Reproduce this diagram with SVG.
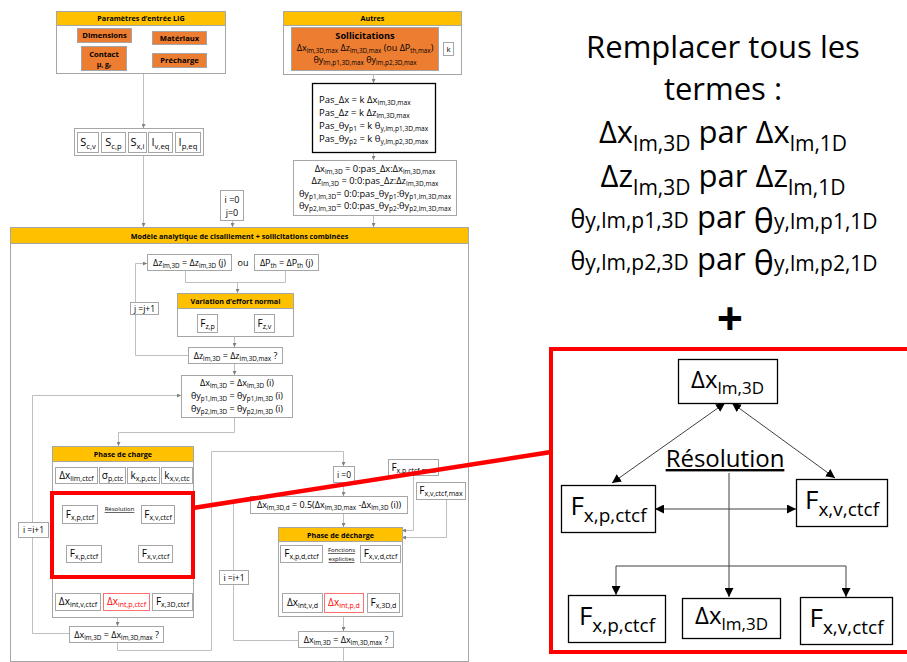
<svg xmlns="http://www.w3.org/2000/svg" width="907" height="662" viewBox="0 0 907 662">
<style>
text{font-family:"Open Sans","Liberation Sans",sans-serif;fill:#000}
.m{text-anchor:middle}
.b{font-weight:bold}
.s{font-size:70%}
.u{text-decoration:underline}
.n{fill:#fff;stroke:#a6a6a6;stroke-width:1}
.h{fill:#ffc000;stroke:#a6a6a6;stroke-width:1}
.o{fill:#ed7d31;stroke:#a6a6a6;stroke-width:1}
.rn{fill:#fff;stroke:#ff7070;stroke-width:1}
.rt{fill:#ff0000}
.k{fill:#fff;stroke:#000;stroke-width:1.3}
.c{fill:none;stroke:#bfbfbf;stroke-width:1}
.ca{fill:none;stroke:#bfbfbf;stroke-width:1;marker-end:url(#sa)}
.cb{fill:none;stroke:#bfbfbf;stroke-width:1;marker-end:url(#sa);marker-start:url(#sa)}
.bl{fill:none;stroke:#404040;stroke-width:1;marker-end:url(#ba)}
.bb{fill:none;stroke:#404040;stroke-width:1;marker-end:url(#ba);marker-start:url(#ba)}
.red{fill:none;stroke:#ff0000;stroke-width:4}
</style>
<defs>
<marker id="sa" viewBox="0 0 6 6" refX="6" refY="3" markerWidth="4" markerHeight="4" orient="auto-start-reverse" markerUnits="userSpaceOnUse"><path d="M0,0L6,3L0,6z" fill="#808080"/></marker>
<marker id="ba" viewBox="0 0 10 10" refX="10" refY="5" markerWidth="9" markerHeight="9" orient="auto-start-reverse" markerUnits="userSpaceOnUse"><path d="M0,0L10,5L0,10z" fill="#000"/></marker>
</defs>
<rect width="907" height="662" fill="#fff"/>

<g id="modele">
<rect class="n" x="10.5" y="227.5" width="458" height="434"/>
<rect class="h" x="10.5" y="227.5" width="458" height="16"/>
<text class="m b" x="239.5" y="238.5" font-size="7.2">Modèle analytique de cisaillement + sollicitations combinées</text>
</g>

<g id="connectors">
<path class="ca" d="M143.5,73.5V128"/>
<path class="ca" d="M143.5,155V227"/>
<path class="ca" d="M373.5,74V83"/>
<path class="ca" d="M373.5,152V160"/>
<path class="ca" d="M373.5,215V227"/>
<path class="ca" d="M232.5,220V227"/>
<path class="c" d="M185.5,270V282.5H285.5V270"/>
<path class="ca" d="M237.5,282.5V293"/>
<path class="c" d="M188,355.5H135.5V314"/>
<path class="ca" d="M135.5,302V263.5H147"/>
<path class="ca" d="M234.5,336V347"/>
<path class="ca" d="M234.5,363V375"/>
<path class="c" d="M69,633.5H32.5V537"/>
<path class="ca" d="M32.5,522V395.5H181"/>
<path class="ca" d="M234.5,417V432.5H118.5V446"/>
<path class="ca" d="M72.5,483V505"/>
<path class="ca" d="M155.5,483V505"/>
<path class="c" d="M106.5,483V491"/>
<path class="c" d="M172.5,483V491"/>
<path class="cb" d="M97,514.5H141"/>
<path class="c" d="M120.5,517V533.5"/>
<path class="cb" d="M83.5,545V533.5H158.5V545"/>
<path class="c" d="M83.5,562V567.5H158.5V562"/>
<path class="c" d="M120.5,567.5V582.5"/>
<path class="cb" d="M77.5,593V582.5H171.5V593"/>
<path class="ca" d="M120.5,582.5V593"/>
<path class="ca" d="M117.5,617V626"/>
<path class="ca" d="M117.5,642V650.5H211.5V451.5H343.5V466"/>
<path class="ca" d="M343.5,482V496"/>
<path class="c" d="M298,640.5H233.5V584"/>
<path class="ca" d="M233.5,570V500.5H250"/>
<path class="ca" d="M343.5,513V527"/>
<path class="ca" d="M413.5,475V530.5H402"/>
<path class="ca" d="M446.5,499V537.5H402"/>
<path class="c" d="M300.5,562V567.5H380.5V562"/>
<path class="c" d="M343.5,564V580.5"/>
<path class="cb" d="M300.5,593V580.5H383.5V593"/>
<path class="ca" d="M343.5,580.5V593"/>
<path class="ca" d="M343.5,616V631"/>
<path class="c" d="M343.5,647V662"/>
<path class="bb" d="M725,403L612,483"/>
<path class="bb" d="M732,403L835,478"/>
<path class="bb" d="M655,509H796"/>
<path class="bl" d="M729,473V597"/>
<path class="bb" d="M616,595V566H846V597"/>
</g>

<g id="params">
<rect class="n" x="56.5" y="11.5" width="169" height="62"/>
<rect class="h" x="56.5" y="11.5" width="169" height="14"/>
<text class="m b" x="141" y="21" font-size="7.2">Paramètres d’entrée LIG</text>
<rect class="o" x="77.5" y="28.5" width="54" height="14"/>
<text class="m b" x="104.5" y="38.3" font-size="7.6">Dimensions</text>
<rect class="o" x="152.5" y="31.5" width="54" height="13"/>
<text class="m b" x="179.5" y="40.8" font-size="7.6">Matériaux</text>
<rect class="o" x="81.5" y="46.5" width="45" height="24"/>
<text class="m b" x="104" y="56.5" font-size="7.6">Contact</text>
<text class="m b" x="104" y="66.5" font-size="7">μ, g<tspan class="s" dy="1.5">r</tspan></text>
<rect class="o" x="152.5" y="53.5" width="54" height="14"/>
<text class="m b" x="179.5" y="63.3" font-size="7.6">Précharge</text>
</g>

<g id="autres">
<rect class="n" x="283.5" y="11.5" width="178" height="63"/>
<rect class="h" x="283.5" y="11.5" width="178" height="14"/>
<text class="m b" x="372.5" y="21" font-size="7.2">Autres</text>
<rect class="o" x="291.5" y="27.5" width="147" height="43"/>
<text class="m b" x="365" y="38.5" font-size="9.2">Sollicitations</text>
<text class="m" x="365" y="50.5" font-size="9">Δx<tspan class="s" dy="2">lm,3D,max</tspan><tspan dy="-2"> Δz</tspan><tspan class="s" dy="2">lm,3D,max</tspan><tspan dy="-2"> (ou ΔP</tspan><tspan class="s" dy="2">th,max</tspan><tspan dy="-2">)</tspan></text>
<text class="m" x="365" y="63" font-size="9">θy<tspan class="s" dy="2">lm,p1,3D,max</tspan><tspan dy="-2"> θy</tspan><tspan class="s" dy="2">lm,p2,3D,max</tspan></text>
<rect class="n" x="443.5" y="42.5" width="10" height="13"/>
<text class="m" x="448.5" y="52" font-size="8">k</text>
</g>

<g id="sections">
<rect class="n" x="74.5" y="128.5" width="129" height="27"/>
<rect class="n" x="77.5" y="132.5" width="21" height="20"/>
<text class="m" x="88" y="146" font-size="11">S<tspan class="s" dy="2.5">c,v</tspan></text>
<rect class="n" x="101.5" y="132.5" width="24" height="20"/>
<text class="m" x="113.5" y="146" font-size="11">S<tspan class="s" dy="2.5">c,p</tspan></text>
<rect class="n" x="128.5" y="132.5" width="18" height="20"/>
<text class="m" x="137.5" y="146" font-size="11">S<tspan class="s" dy="2.5">x,i</tspan></text>
<rect class="n" x="148.5" y="132.5" width="24" height="20"/>
<text class="m" x="160.5" y="146" font-size="11">I<tspan class="s" dy="2.5">v,eq</tspan></text>
<rect class="n" x="175.5" y="132.5" width="25" height="20"/>
<text class="m" x="188" y="146" font-size="11">I<tspan class="s" dy="2.5">p,eq</tspan></text>
</g>

<g id="pas">
<rect class="k" x="312.5" y="83.5" width="123" height="69" stroke-width="2"/>
<text x="319" y="103" font-size="9.5">Pas_Δx = k Δx<tspan class="s" dy="2">lm,3D,max</tspan></text>
<text x="319" y="116" font-size="9.5">Pas_Δz = k Δz<tspan class="s" dy="2">lm,3D,max</tspan></text>
<text x="319" y="129" font-size="9.5">Pas_θy<tspan class="s" dy="2">p1</tspan><tspan dy="-2"> = k θ</tspan><tspan class="s" dy="2">y,lm,p1,3D,max</tspan></text>
<text x="319" y="142" font-size="9.5">Pas_θy<tspan class="s" dy="2">p2</tspan><tspan dy="-2"> = k θ</tspan><tspan class="s" dy="2">y,lm,p2,3D,max</tspan></text>
</g>

<g id="plages">
<rect class="n" x="293.5" y="160.5" width="163" height="55"/>
<text class="m" x="375" y="171.5" font-size="9.3">Δx<tspan class="s" dy="2">lm,3D</tspan><tspan dy="-2"> = 0:pas_Δx:Δx</tspan><tspan class="s" dy="2">lm,3D,max</tspan></text>
<text class="m" x="375" y="184" font-size="9.3">Δz<tspan class="s" dy="2">lm,3D</tspan><tspan dy="-2"> = 0:0:pas_Δz:Δz</tspan><tspan class="s" dy="2">lm,3D,max</tspan></text>
<text class="m" x="375" y="196.5" font-size="9.3">θy<tspan class="s" dy="2">p1,lm,3D</tspan><tspan dy="-2">= 0:0:pas_θy</tspan><tspan class="s" dy="2">p1</tspan><tspan dy="-2">:θy</tspan><tspan class="s" dy="2">p1,lm,3D,max</tspan></text>
<text class="m" x="375" y="209" font-size="9.3">θy<tspan class="s" dy="2">p2,lm,3D</tspan><tspan dy="-2">= 0:0:pas_θy</tspan><tspan class="s" dy="2">p2</tspan><tspan dy="-2">:θy</tspan><tspan class="s" dy="2">p2,lm,3D,max</tspan></text>
</g>

<g id="init">
<rect class="n" x="220.5" y="190.5" width="23" height="30"/>
<text class="m" x="232" y="202.5" font-size="9">i =0</text>
<text class="m" x="232" y="215.5" font-size="9">j=0</text>
</g>

<g id="dz">
<rect class="n" x="147.5" y="254.5" width="84" height="16"/>
<text class="m" x="189.5" y="265.5" font-size="9">Δz<tspan class="s" dy="2">lm,3D</tspan><tspan dy="-2"> = Δz</tspan><tspan class="s" dy="2">lm,3D</tspan><tspan dy="-2"> (j)</tspan></text>
<text class="m" x="243" y="265.5" font-size="9">ou</text>
<rect class="n" x="254.5" y="254.5" width="64" height="16"/>
<text class="m" x="286.5" y="265.5" font-size="9">ΔP<tspan class="s" dy="2">th</tspan><tspan dy="-2"> = ΔP</tspan><tspan class="s" dy="2">th</tspan><tspan dy="-2"> (j)</tspan></text>
</g>

<g id="jinc">
<rect class="n" x="130.5" y="302.5" width="28" height="12"/>
<text class="m" x="144.5" y="311.5" font-size="8.5">j =j+1</text>
</g>

<g id="variation">
<rect class="n" x="177.5" y="293.5" width="116" height="43"/>
<rect class="h" x="177.5" y="293.5" width="116" height="15"/>
<text class="m b" x="235.5" y="303.8" font-size="7.2">Variation d’effort normal</text>
<rect class="n" x="197.5" y="314.5" width="20" height="18"/>
<text class="m" x="207.5" y="326.5" font-size="10">F<tspan class="s" dy="2">z,p</tspan></text>
<rect class="n" x="254.5" y="314.5" width="20" height="18"/>
<text class="m" x="264.5" y="326.5" font-size="10">F<tspan class="s" dy="2">z,v</tspan></text>
</g>

<g id="dzmax">
<rect class="n" x="188.5" y="347.5" width="94" height="16"/>
<text class="m" x="235.5" y="358.5" font-size="9">Δz<tspan class="s" dy="2">lm,3D</tspan><tspan dy="-2"> = Δz</tspan><tspan class="s" dy="2">lm,3D,max</tspan><tspan dy="-2"> ?</tspan></text>
</g>

<g id="dxi">
<rect class="n" x="181.5" y="375.5" width="111" height="42"/>
<text class="m" x="237" y="386" font-size="9">Δx<tspan class="s" dy="2">lm,3D</tspan><tspan dy="-2"> = Δx</tspan><tspan class="s" dy="2">lm,3D</tspan><tspan dy="-2"> (i)</tspan></text>
<text class="m" x="237" y="399" font-size="9">θy<tspan class="s" dy="2">p1,lm,3D</tspan><tspan dy="-2"> = θy</tspan><tspan class="s" dy="2">p1,lm,3D</tspan><tspan dy="-2"> (i)</tspan></text>
<text class="m" x="237" y="412" font-size="9">θy<tspan class="s" dy="2">p2,lm,3D</tspan><tspan dy="-2"> = θy</tspan><tspan class="s" dy="2">p2,lm,3D</tspan><tspan dy="-2"> (i)</tspan></text>
</g>

<g id="iinc1">
<rect class="n" x="18.5" y="522.5" width="30" height="15"/>
<text class="m" x="33.5" y="533" font-size="8.5">i =i+1</text>
</g>

<g id="charge">
<rect class="n" x="52.5" y="446.5" width="141" height="171"/>
<rect class="h" x="52.5" y="446.5" width="141" height="15"/>
<text class="m b" x="123" y="456.8" font-size="7.2">Phase de charge</text>
<rect class="n" x="55.5" y="467.5" width="42" height="16"/>
<text class="m" x="76.5" y="479" font-size="10">Δx<tspan class="s" dy="2">lim,ctcf</tspan></text>
<rect class="n" x="99.5" y="467.5" width="26" height="16"/>
<text class="m" x="112.5" y="479" font-size="10">σ<tspan class="s" dy="2">p,ctc</tspan></text>
<rect class="n" x="127.5" y="467.5" width="32" height="16"/>
<text class="m" x="143.5" y="479" font-size="10">k<tspan class="s" dy="2">x,p,ctc</tspan></text>
<rect class="n" x="161.5" y="467.5" width="31" height="16"/>
<text class="m" x="177" y="479" font-size="10">k<tspan class="s" dy="2">x,v,ctc</tspan></text>
<rect class="n" x="62.5" y="505.5" width="35" height="18"/>
<text class="m" x="80" y="517.5" font-size="10">F<tspan class="s" dy="2">x,p,ctcf</tspan></text>
<text class="m u" x="119.5" y="511" font-size="6">Résolution</text>
<rect class="n" x="141.5" y="505.5" width="33" height="18"/>
<text class="m" x="158" y="517.5" font-size="10">F<tspan class="s" dy="2">x,v,ctcf</tspan></text>
<rect class="n" x="66.5" y="545.5" width="35" height="17"/>
<text class="m" x="84" y="557" font-size="10">F<tspan class="s" dy="2">x,p,ctcf</tspan></text>
<rect class="n" x="138.5" y="545.5" width="34" height="17"/>
<text class="m" x="155.5" y="557" font-size="10">F<tspan class="s" dy="2">x,v,ctcf</tspan></text>
<rect class="n" x="55.5" y="593.5" width="45" height="17"/>
<text class="m" x="78" y="605" font-size="10">Δx<tspan class="s" dy="2">int,v,ctcf</tspan></text>
<rect class="rn" x="103.5" y="593.5" width="46" height="17"/>
<text class="m rt" x="126.5" y="605" font-size="10">Δx<tspan class="s" dy="2">int,p,ctcf</tspan></text>
<rect class="n" x="152.5" y="593.5" width="40" height="17"/>
<text class="m" x="172.5" y="605" font-size="10">F<tspan class="s" dy="2">x,3D,ctcf</tspan></text>
<rect class="red" x="52" y="493" width="141" height="84"/>
</g>

<g id="dxmax1">
<rect class="n" x="69.5" y="626.5" width="94" height="16"/>
<text class="m" x="116.5" y="637.5" font-size="9">Δx<tspan class="s" dy="2">lm,3D</tspan><tspan dy="-2"> = Δx</tspan><tspan class="s" dy="2">lm,3D,max</tspan><tspan dy="-2"> ?</tspan></text>
</g>

<g id="i0">
<rect class="n" x="333.5" y="466.5" width="21" height="16"/>
<text class="m" x="344" y="477.5" font-size="8.5">i =0</text>
</g>

<g id="dxd">
<rect class="n" x="250.5" y="496.5" width="157" height="17"/>
<text class="m" x="329" y="508" font-size="9">Δx<tspan class="s" dy="2">lm,3D,d</tspan><tspan dy="-2"> = 0.5(Δx</tspan><tspan class="s" dy="2">lm,3D,max</tspan><tspan dy="-2"> -Δx</tspan><tspan class="s" dy="2">lm,3D</tspan><tspan dy="-2"> (i))</tspan></text>
</g>

<g id="iinc2">
<rect class="n" x="219.5" y="570.5" width="29" height="14"/>
<text class="m" x="234" y="580.5" font-size="8.5">i =i+1</text>
</g>

<g id="fmax">
<rect class="n" x="388.5" y="459.5" width="50" height="16"/>
<text class="m" x="413.5" y="470.5" font-size="10">F<tspan class="s" dy="2">x,p,ctcf,max</tspan></text>
<rect class="n" x="416.5" y="482.5" width="49" height="17"/>
<text class="m" x="441" y="494" font-size="10">F<tspan class="s" dy="2">x,v,ctcf,max</tspan></text>
</g>

<g id="decharge">
<rect class="n" x="278.5" y="527.5" width="124" height="89"/>
<rect class="h" x="278.5" y="527.5" width="124" height="14"/>
<text class="m b" x="340.5" y="537.5" font-size="7.2">Phase de décharge</text>
<rect class="n" x="280.5" y="545.5" width="42" height="17"/>
<text class="m" x="301.5" y="557" font-size="10">F<tspan class="s" dy="2">x,p,d,ctcf</tspan></text>
<text class="m u" x="341.5" y="552" font-size="6">Fonctions</text>
<text class="m u" x="341.5" y="561" font-size="6">explicites</text>
<rect class="n" x="360.5" y="545.5" width="40" height="17"/>
<text class="m" x="380.5" y="557" font-size="10">F<tspan class="s" dy="2">x,v,d,ctcf</tspan></text>
<rect class="n" x="282.5" y="593.5" width="40" height="19"/>
<text class="m" x="302.5" y="606" font-size="10">Δx<tspan class="s" dy="2">int,v,d</tspan></text>
<rect class="rn" x="324.5" y="593.5" width="39" height="19"/>
<text class="m rt" x="344" y="606" font-size="10">Δx<tspan class="s" dy="2">int,p,d</tspan></text>
<rect class="n" x="367.5" y="593.5" width="32" height="19"/>
<text class="m" x="383.5" y="606" font-size="10">F<tspan class="s" dy="2">x,3D,d</tspan></text>
</g>

<g id="dxmax2">
<rect class="n" x="298.5" y="631.5" width="95" height="16"/>
<text class="m" x="346" y="642.5" font-size="9">Δx<tspan class="s" dy="2">lm,3D</tspan><tspan dy="-2"> = Δx</tspan><tspan class="s" dy="2">lm,3D,max</tspan><tspan dy="-2"> ?</tspan></text>
</g>

<g id="zoom-link">
<line x1="193" y1="508" x2="551" y2="452" stroke="#ff0000" stroke-width="4.5"/>
</g>

<g id="remplacer">
<text class="m" x="723" y="58" font-size="31">Remplacer tous les</text>
<text class="m" x="723" y="100" font-size="31">termes :</text>
<text class="m" x="723" y="143" font-size="31">Δx<tspan font-size="21" dy="8">lm,3D</tspan><tspan dy="-8"> par Δx</tspan><tspan font-size="21" dy="8">lm,1D</tspan></text>
<text class="m" x="723" y="187" font-size="31">Δz<tspan font-size="21" dy="8">lm,3D</tspan><tspan dy="-8"> par Δz</tspan><tspan font-size="21" dy="8">lm,1D</tspan></text>
<text class="m" x="724" y="228" font-size="31"><tspan font-size="25">θ</tspan><tspan font-size="21">y,lm,p1,3D</tspan><tspan> par </tspan><tspan font-size="34" dy="5">θ</tspan><tspan font-size="21" dy="-4">y,lm,p1,1D</tspan></text>
<text class="m" x="724" y="270" font-size="31"><tspan font-size="25">θ</tspan><tspan font-size="21">y,lm,p2,3D</tspan><tspan> par </tspan><tspan font-size="34" dy="5">θ</tspan><tspan font-size="21" dy="-4">y,lm,p2,1D</tspan></text>
<text class="m b" x="730" y="335" font-size="46">+</text>
</g>

<g id="zoom-frame">
<rect x="551" y="349" width="380" height="303" fill="none" stroke="#ff0000" stroke-width="4"/>
</g>

<g id="z-dx-top">
<rect class="k" x="678.5" y="359.5" width="99" height="44"/>
<text class="m" x="727.5" y="388" font-size="24">Δx<tspan font-size="17" dy="6">lm,3D</tspan></text>
</g>
<g id="z-fxp">
<rect class="k" x="561.5" y="485.5" width="94" height="47"/>
<text class="m" x="608.5" y="515" font-size="26">F<tspan font-size="19" dy="7">x,p,ctcf</tspan></text>
</g>
<g id="z-fxv">
<rect class="k" x="796.5" y="479.5" width="91" height="47"/>
<text class="m" x="842" y="509" font-size="26">F<tspan font-size="19" dy="7">x,v,ctcf</tspan></text>
</g>
<g id="z-resolution">
<text class="m u" x="725" y="467" font-size="24">Résolution</text>
</g>
<g id="z-fxp2">
<rect class="k" x="568.5" y="595.5" width="97" height="47"/>
<text class="m" x="617" y="625" font-size="26">F<tspan font-size="19" dy="7">x,p,ctcf</tspan></text>
</g>
<g id="z-dx-bot">
<rect class="k" x="682.5" y="598.5" width="98" height="40"/>
<text class="m" x="731.5" y="624" font-size="24">Δx<tspan font-size="17" dy="6">lm,3D</tspan></text>
</g>
<g id="z-fxv2">
<rect class="k" x="800.5" y="597.5" width="92" height="47"/>
<text class="m" x="846.5" y="627" font-size="26">F<tspan font-size="19" dy="7">x,v,ctcf</tspan></text>
</g>
</svg>
